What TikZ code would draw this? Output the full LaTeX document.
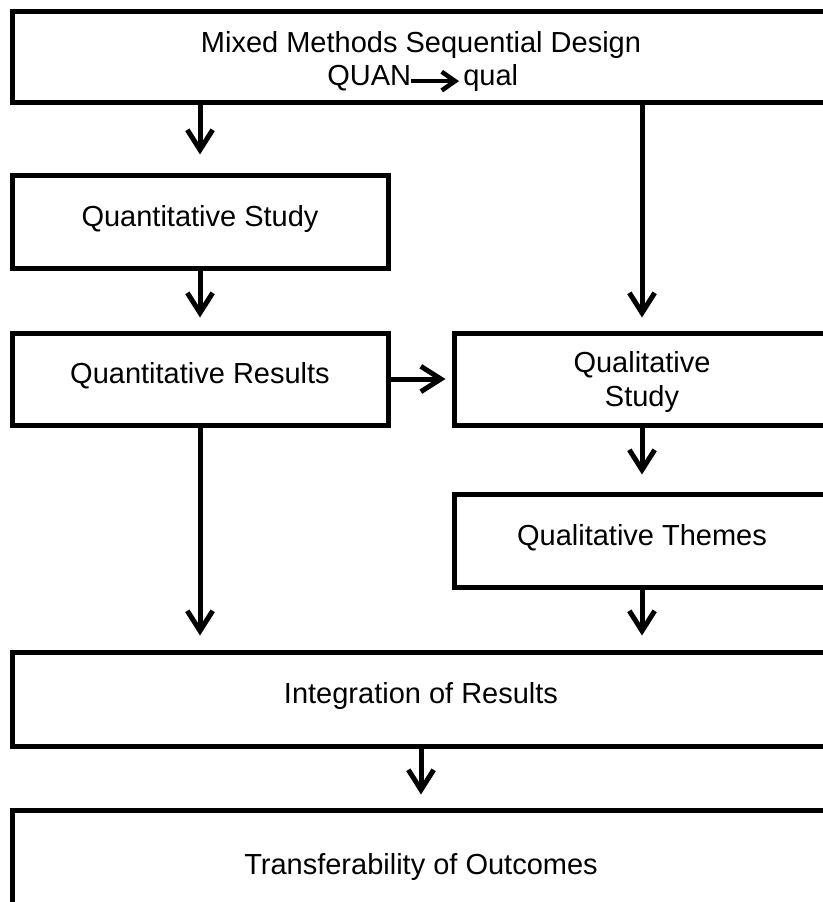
\documentclass[tikz,border=0pt]{standalone}
\usepackage{fontspec}
\setmainfont{Liberation Sans}
\usetikzlibrary{arrows.meta,calc}
\tikzset{
  boxst/.style={draw=black, line width=3.75pt, fill=white, inner sep=0pt,
    font=\fontsize{21.75pt}{25.5pt}\selectfont, align=center,
    text height=0.72em, text depth=0pt},
  lbl/.style={inner sep=0pt, font=\fontsize{21.75pt}{25.5pt}\selectfont},
  flow/.style={line width=3.75pt, -{Straight Barb[length=15pt,width=19pt,line join=miter]}},
  inarrow/.style={line width=3.4pt, -{Straight Barb[length=10pt,width=14pt,line join=miter]}}
}
\begin{document}
\begin{tikzpicture}[x=0.75pt,y=-0.75pt]
\useasboundingbox (0,0) rectangle (823,902);
\clip (0,0) rectangle (823,902);
\fill[white] (0,0) rectangle (823,902);
% boxes
\node[boxst, minimum width=613.5pt, minimum height=68.25pt] (top) at (421,57.5) {};
\node[lbl, anchor=base] (t1) at (421,53) {Mixed Methods Sequential Design};
\node[lbl, anchor=base west] (quan) at (327,86) {QUAN};
\node[lbl, anchor=base west] (qual) at (463,86) {qual};
\node[boxst, minimum width=282pt, minimum height=69pt] (qs) at (200,222) {Quantitative Study};
\node[boxst, minimum width=282pt, minimum height=69pt] (qr) at (200,379) {Quantitative Results};
\node[boxst, minimum width=282pt, minimum height=69pt, text height=41.2pt] (qls) at (642,379) {Qualitative\\Study};
\node[boxst, minimum width=282pt, minimum height=69.75pt] (qlt) at (642,540.5) {Qualitative Themes};
\node[boxst, minimum width=613.5pt, minimum height=70.5pt] (integ) at (421,699) {Integration of Results};
\node[boxst, minimum width=613.5pt, minimum height=70.5pt, text height=25.5pt] (trans) at (421,857) {Transferability of Outcomes};
% arrows
\draw[inarrow] ($(quan.east)+(0,2.5)$) -- ($(quan.east -| qual.west)+(-4,2.5)$);
\draw[flow] (top.south -| qs.north) -- ($(qs.north)+(0,-19)$);
\draw[flow] (qs.south) -- ($(qr.north)+(0,-13)$);
\draw[flow] (top.south -| qls.north) -- ($(qls.north)+(0,-13)$);
\draw[flow] (qr.east) -- ($(qls.west)+(-6,0)$);
\draw[flow] (qls.south) -- ($(qlt.north)+(0,-17)$);
\draw[flow] (qlt.south) -- ($(qlt.south |- integ.north)+(0,-14)$);
\draw[flow] (qr.south) -- ($(qr.south |- integ.north)+(0,-14)$);
\draw[flow] (integ.south) -- ($(trans.north)+(0,-13)$);
\end{tikzpicture}
\end{document}
